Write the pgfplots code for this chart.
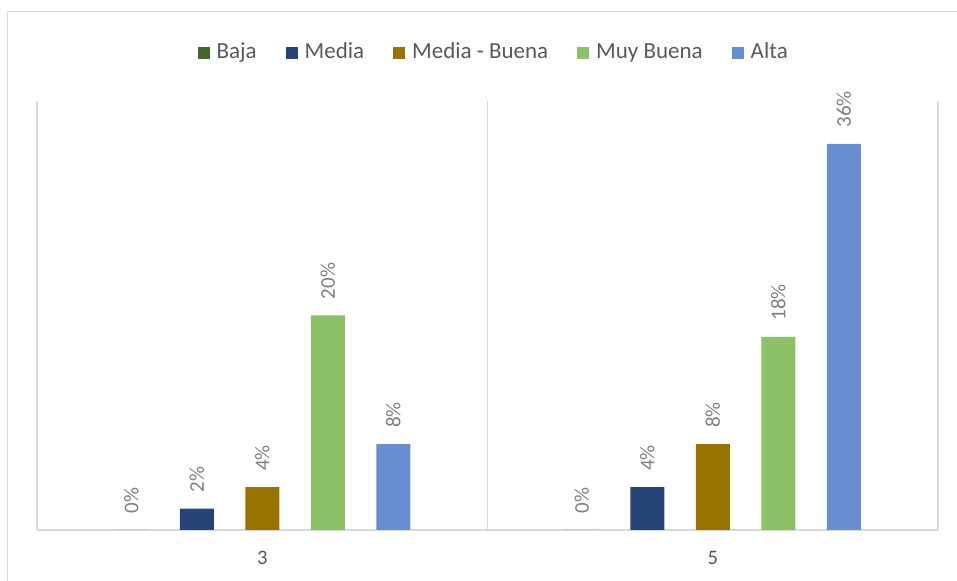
\documentclass[border=0pt]{standalone}
\usepackage{fontspec}
\setmainfont{Carlito}
\usepackage{pgfplots}
\pgfplotsset{compat=1.18}
\definecolor{cBaja}{HTML}{43682B}
\definecolor{cMedia}{HTML}{264478}
\definecolor{cMB}{HTML}{997300}
\definecolor{cMuy}{HTML}{8CC168}
\definecolor{cAlta}{HTML}{698ED0}
\definecolor{gridc}{HTML}{D9D9D9}
\definecolor{txtc}{HTML}{595959}
\definecolor{labc}{HTML}{7F7F7F}
\begin{document}
\begin{tikzpicture}
\useasboundingbox (0,0) rectangle (478.5pt,290.5pt);
\draw[gridc, line width=0.9pt] (3.75pt,-2pt) -- (3.75pt,284.75pt) -- (480pt,284.75pt);
\begin{axis}[
  at={(18.5pt,25.5pt)}, anchor=south west,
  scale only axis, width=450.5pt, height=214.5pt,
  xmin=-0.5, xmax=1.5, ymin=0, ymax=40,
  clip=false,
  ybar=15.75pt, bar width=17pt,
  axis y line=none, axis x line*=bottom,
  x axis line style={draw=gridc, line width=0.9pt},
  xtick={0,1}, xticklabels={3,5},
  major tick length=0pt,
  xticklabel style={font=\fontsize{10.3pt}{12pt}\selectfont, text=txtc, yshift=-7pt},
  extra x ticks={-0.5,0.5,1.5}, extra x tick labels={},
  extra x tick style={grid=major, major grid style={draw=gridc, line width=0.9pt}},
  /pgf/number format/assume math mode=true,
  nodes near coords={\pgfmathprintnumber{\pgfplotspointmeta}\%},
  every node near coord/.append style={font=\fontsize{10.5pt}{12pt}\selectfont, text=labc, rotate=90, anchor=west, inner xsep=8pt, inner ysep=0pt},
  legend columns=-1,
  legend style={at={(0.508,1.113)}, anchor=center, draw=none, fill=none,
    font=\fontsize{11.5pt}{13pt}\selectfont, text=txtc,
    /tikz/every even column/.append style={column sep=12.5pt}},
  legend image code/.code={\fill[#1] (0pt,-3pt) rectangle (6pt,3pt); \path (7.5pt,0pt);},
]
\addplot[fill=cBaja, draw=none] coordinates {(0,0) (1,0)};
\addplot[fill=cMedia, draw=none] coordinates {(0,2) (1,4)};
\addplot[fill=cMB, draw=none] coordinates {(0,4) (1,8)};
\addplot[fill=cMuy, draw=none] coordinates {(0,20) (1,18)};
\addplot[fill=cAlta, draw=none] coordinates {(0,8) (1,36)};
\legend{Baja, Media, Media - Buena, Muy Buena, Alta}
\end{axis}
\end{tikzpicture}
\end{document}
